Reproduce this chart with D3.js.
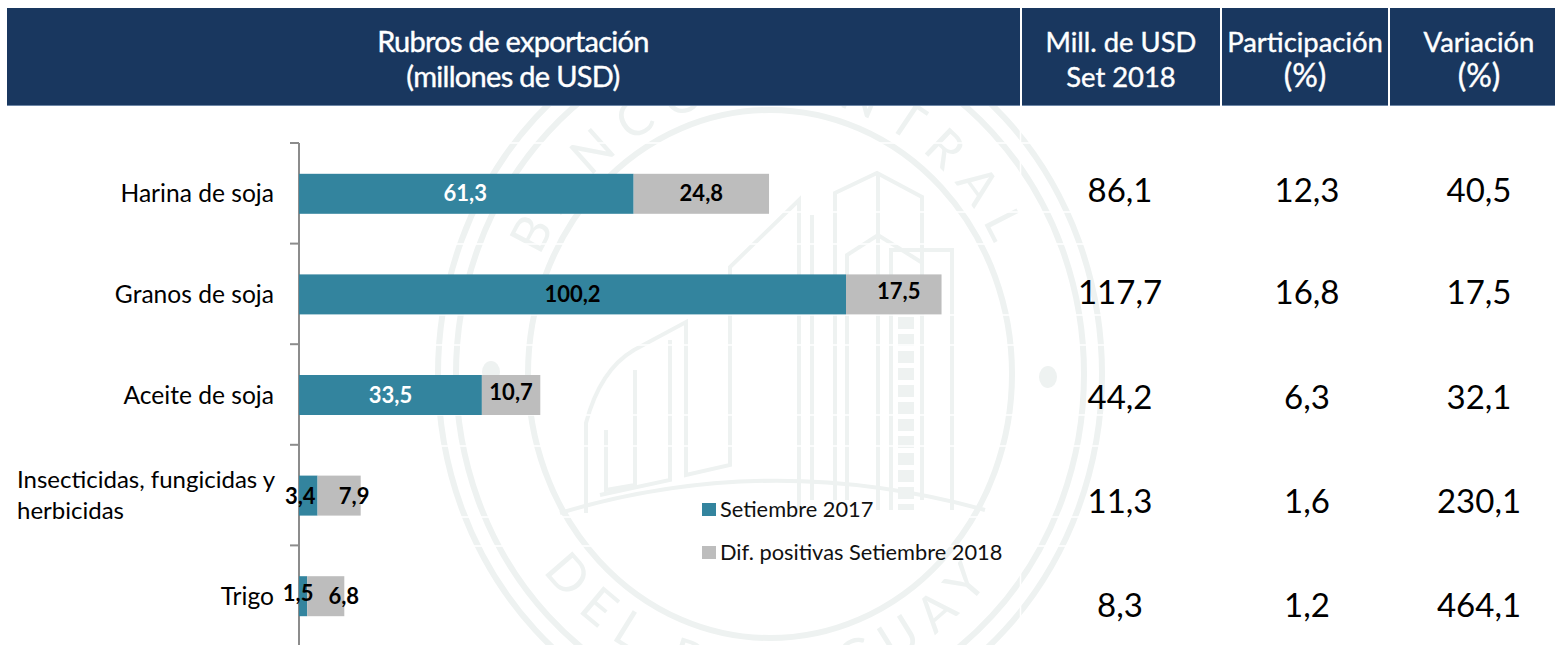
<!DOCTYPE html>
<html><head><meta charset="utf-8">
<script src="https://cdn.jsdelivr.net/npm/d3@7"></script>
<style>
html,body{margin:0;padding:0;background:#fff}
svg{display:block}
text{font-family:Lato,"Open Sans",sans-serif}
</style></head><body>
<svg id="c" width="1555" height="645"></svg>
<script>
const categories=["Harina de soja","Granos de soja","Aceite de soja","Insecticidas, fungicidas y herbicidas","Trigo"];
const sep2017=[61.3,100.2,33.5,3.4,1.5];
const difPositivas=[24.8,17.5,10.7,7.9,6.8];
const labels2017=["61,3","100,2","33,5","3,4","1,5"];
const labelsDif=["24,8","17,5","10,7","7,9","6,8"];
const millUSD=["86,1","117,7","44,2","11,3","8,3"];
const participacion=["12,3","16,8","6,3","1,6","1,2"];
const variacion=["40,5","17,5","32,1","230,1","464,1"];
const legendLabels=["Setiembre 2017","Dif. positivas Setiembre 2018"];
const headers=[["Rubros de exportación","(millones de USD)"],["Mill. de USD","Set 2018"],["Participación","(%)"],["Variación","(%)"]];

const svg=d3.select("#c");
const navy="#19375f",teal="#33849e",grey="#bdbdbd",wmCol="#eef2f1";

// watermark seal (decorative background)
const wm=svg.append("g").attr("fill","none").attr("stroke",wmCol);
const ell=(rx,ry,w)=>wm.append("ellipse").attr("cx",770).attr("cy",374).attr("rx",rx).attr("ry",ry).attr("stroke-width",w);
ell(332,362,6);ell(314,342,6);ell(242,264,6);
[[491,372],[1048,377]].forEach(([a,b])=>svg.append("ellipse").attr("cx",a).attr("cy",b).attr("rx",9).attr("ry",11).attr("fill",wmCol));
const building=[
 "M835,500V193L877,173L922,197V500","M878,175V510","M847,500V255L878,235L921,262",
 "M799,510V200L730,267V300","M812,500V215","M891,510V250H952V510","M730,300V465L686,475V322L634,350Q600,370 586,423V513",
 "M606,430V490L635,485V370","M670,340V480L600,495","M560,513Q770,450 985,510"];
building.forEach(d=>wm.append("path").attr("d",d).attr("stroke-width",4));
wm.append("path").attr("d","M906,300V510").attr("stroke-width",16).attr("stroke-dasharray","12 5");
const defs=svg.append("defs");
defs.append("path").attr("id","arcT").attr("d","M 516 374 A 254 277 0 0 1 1024 374");
defs.append("path").attr("id","arcB").attr("d","M 480 374 A 290 316 0 0 0 1060 374");
[["#arcT","BANCO CENTRAL",14],["#arcB","DEL PARAGUAY",14]].forEach(([h,t,ls])=>{
  svg.append("text").attr("font-size",50).attr("font-weight",400).attr("fill",wmCol).attr("letter-spacing",ls)
    .append("textPath").attr("href",h).attr("startOffset","50%").attr("text-anchor","middle").text(t);
});
// pale stripes crossing the seal
const stripes=[143,212,244,315,345,415,446,517,546];
svg.append("g").selectAll("line").data(stripes).join("line").attr("x1",299).attr("x2",1130).attr("y1",d=>d).attr("y2",d=>d).attr("stroke","#fff").attr("stroke-width",1.5);
svg.append("line").attr("x1",1020.5).attr("x2",1020.5).attr("y1",105).attr("y2",645).attr("stroke","#fff").attr("stroke-width",1.5);

// header cells
const cols=[[7,1020],[1022,1220],[1222,1388],[1390,1555]];
const head=svg.append("g");
cols.forEach(([a,b],i)=>{
  head.append("rect").attr("x",a).attr("y",8).attr("width",b-a).attr("height",97).attr("fill",navy);
  head.append("line").attr("x1",a).attr("x2",b).attr("y1",105.5).attr("y2",105.5).attr("stroke","#6d86a6").attr("stroke-width",1);
  const cx=[513,1121,1305,1479][i];
  headers[i].forEach((t,j)=>{
    const tx=head.append("text").attr("x",cx).attr("y",[52,87][j]).attr("text-anchor","middle").attr("fill","#fff")
      .attr("stroke","#fff").attr("stroke-width",0.4)
      .attr("font-size",i===0?29:(t==="(%)"?32:27.4)).text(t);
    if(i===0) tx.attr("letter-spacing",-0.7);
  });
});

// scales
const x=d3.scaleLinear().domain([0,100.2]).range([299,846]);
const y=d3.scaleBand().domain(categories).range([143,646]);
const barH=40;

// axis
const ax=svg.append("g").attr("transform","translate(299,0)").call(d3.axisLeft(y).tickSize(0).tickFormat(""));
ax.select(".domain").attr("stroke","#8c8c8c").attr("stroke-width",2).attr("d","M0,143V645");
ax.selectAll(".tick").remove();
categories.forEach(c=>{
  const yy=y(c);
  svg.append("line").attr("x1",290).attr("x2",299).attr("y1",yy).attr("y2",yy).attr("stroke","#8c8c8c").attr("stroke-width",2);
});

const bars=svg.append("g");
categories.forEach((c,i)=>{
  const cy=y(c)+y.bandwidth()/2+0.5;
  bars.append("rect").attr("x",x(0)).attr("y",cy-barH/2).attr("width",x(sep2017[i])-x(0)).attr("height",barH).attr("fill",teal);
  bars.append("rect").attr("x",x(sep2017[i])).attr("y",cy-barH/2).attr("width",x(difPositivas[i])-x(0)).attr("height",barH).attr("fill",grey);
});
// bar labels
const lab=svg.append("g").attr("font-size",22).attr("font-weight",700).attr("text-anchor","middle");
const whiteLabel=[true,false,true,false,false];
const nudgeA=[[-1,0],[0,0],[0,0],[-8,1],[-5,-3]];
const nudgeB=[[0,0],[5,-3],[0,-3],[15,1],[18,0]];
categories.forEach((c,i)=>{
  const cy=y(c)+y.bandwidth()/2+8;
  const mid=(x(0)+x(sep2017[i]))/2;
  const m2=(x(sep2017[i])+x(sep2017[i]+difPositivas[i]))/2;
  lab.append("text").attr("x",mid+nudgeA[i][0]).attr("y",cy+nudgeA[i][1]).attr("fill",whiteLabel[i]?"#fff":"#000").text(labels2017[i]);
  lab.append("text").attr("x",m2+nudgeB[i][0]).attr("y",cy+nudgeB[i][1]).attr("fill","#000").text(labelsDif[i]);
});
// category labels
const catg=svg.append("g").attr("fill","#000");
categories.forEach((c,i)=>{
  const cy=y(c)+y.bandwidth()/2+9;
  if(i===3){
    catg.append("text").attr("font-size",24).attr("x",17).attr("y",488).text("Insecticidas, fungicidas y");
    catg.append("text").attr("font-size",24).attr("x",17).attr("y",519).text("herbicidas");
  } else catg.append("text").attr("font-size",24.6).attr("x",274).attr("y",cy).attr("text-anchor","end").text(c);
});
// table columns
const tbl=svg.append("g").attr("font-size",33).attr("fill","#000").attr("text-anchor","middle");
const rowY=[202,304,409,513,617];
[[millUSD,1120],[participacion,1307],[variacion,1479]].forEach(([arr,cx])=>{
  arr.forEach((t,i)=>tbl.append("text").attr("x",cx).attr("y",rowY[i]).text(t));
});
// legend
const leg=svg.append("g").attr("font-size",21.8).attr("fill","#111");
[[teal,702,510],[grey,702,553]].forEach(([col,lx,ly],i)=>{
  leg.append("rect").attr("x",lx).attr("y",ly-7).attr("width",14).attr("height",13).attr("fill",col);
  leg.append("text").attr("x",lx+18).attr("y",ly+7).text(legendLabels[i]);
});
</script></body></html>
